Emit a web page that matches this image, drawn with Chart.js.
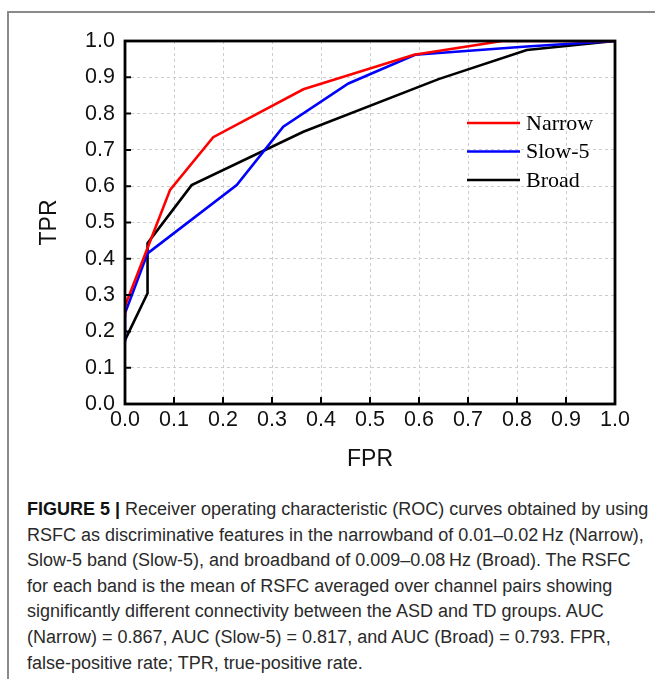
<!DOCTYPE html>
<html lang="en">
<head>
  <meta charset="UTF-8">
  <title>ROC curves</title>
  <script src="https://cdn.jsdelivr.net/npm/chart.js"></script>
  <style>
    html, body { margin: 0; padding: 0; background: #fff; }
    body { width: 655px; height: 679px; position: relative; overflow: hidden; }
    #frame { position: absolute; left: 7px; top: 11px; right: -2px; bottom: -2px; border-left: 2px solid #8a8a8a; border-top: 2px solid #8a8a8a; }
    #wrap { position: absolute; left: 0; top: 0; width: 655px; height: 480px; }
    #caption { position: absolute; left: 27px; top: 497px; width: 625px; font-family: "Liberation Sans", Arial, sans-serif; font-size: 18px; line-height: 25.6px; color: #2a2a2a; white-space: nowrap; }
    #caption b { font-weight: bold; color: #111; }
  </style>
</head>
<body>
<div id="frame"></div>
<div id="wrap"><canvas id="roc" width="655" height="480"></canvas></div>
<div id="caption">
  <b>FIGURE 5 |</b> Receiver operating characteristic (ROC) curves obtained by using<br>
  RSFC as discriminative features in the narrowband of 0.01–0.02&#8201;Hz (Narrow),<br>
  Slow-5 band (Slow-5), and broadband of 0.009–0.08&#8201;Hz (Broad). The RSFC<br>
  for each band is the mean of RSFC averaged over channel pairs showing<br>
  significantly different connectivity between the ASD and TD groups. AUC<br>
  (Narrow) = 0.867, AUC (Slow-5) = 0.817, and AUC (Broad) = 0.793. FPR,<br>
  false-positive rate; TPR, true-positive rate.
</div>

<script>
  // values (FPR, TPR)
  const narrowFpr = [0, 0, 0.046, 0.092, 0.18, 0.364, 0.59, 0.77, 1];
  const narrowTpr = [0.24, 0.27, 0.43, 0.59, 0.735, 0.867, 0.962, 1, 1];
  const slowFpr = [0, 0, 0.046, 0.228, 0.323, 0.456, 0.592, 0.82, 1];
  const slowTpr = [0.17, 0.25, 0.415, 0.603, 0.764, 0.883, 0.962, 0.985, 1];
  const broadFpr = [0, 0.046, 0.046, 0.136, 0.364, 0.64, 0.82, 1];
  const broadTpr = [0.176, 0.305, 0.443, 0.603, 0.75, 0.895, 0.975, 1];
  const axisTicks = [0, 0.1, 0.2, 0.3, 0.4, 0.5, 0.6, 0.7, 0.8, 0.9, 1];

  function pts(xs, ys) {
    return xs.map((x, i) => ({ x: x, y: ys[i] }));
  }

  // box around the plot, inward tick marks and legend inside the plot
  const frameAndLegend = {
    id: 'frameAndLegend',
    afterDatasetsDraw(chart) {
      const { ctx, chartArea: a, scales } = chart;
      ctx.save();
      ctx.strokeStyle = '#000';
      ctx.lineWidth = 2;
      ctx.beginPath();
      axisTicks.forEach(v => {
        const px = scales.x.getPixelForValue(v);
        ctx.moveTo(px, a.bottom);
        ctx.lineTo(px, a.bottom - 7);
        const py = scales.y.getPixelForValue(v);
        ctx.moveTo(a.left, py);
        ctx.lineTo(a.left + 6, py);
      });
      ctx.stroke();
      ctx.lineWidth = 2.8;
      ctx.strokeRect(a.left, a.top, a.right - a.left, a.bottom - a.top);

      // legend
      ctx.font = '22px "Liberation Serif", "Times New Roman", serif';
      ctx.textBaseline = 'middle';
      ctx.textAlign = 'left';
      chart.data.datasets.forEach((ds, i) => {
        const y = a.top + 82 + i * 28.5;
        const x0 = a.right - 148;
        ctx.strokeStyle = ds.borderColor;
        ctx.lineWidth = 2.6;
        ctx.beginPath();
        ctx.moveTo(x0, y);
        ctx.lineTo(x0 + 53, y);
        ctx.stroke();
        ctx.fillStyle = '#000';
        ctx.fillText(ds.label, x0 + 59, y + 1);
      });
      ctx.restore();
    }
  };

  const ticksFont = { family: '"Liberation Sans", Arial, sans-serif', size: 21.5 };
  const titleFont = { family: '"Liberation Sans", Arial, sans-serif', size: 23 };

  new Chart(document.getElementById('roc'), {
    type: 'line',
    data: {
      datasets: [
        { label: 'Narrow', data: pts(narrowFpr, narrowTpr), borderColor: '#ff0000' },
        { label: 'Slow-5', data: pts(slowFpr, slowTpr), borderColor: '#0000ff' },
        { label: 'Broad', data: pts(broadFpr, broadTpr), borderColor: '#000000' }
      ]
    },
    options: {
      responsive: false,
      animation: false,
      events: [],
      elements: {
        line: { borderWidth: 2.6, tension: 0, borderJoinStyle: 'miter' },
        point: { radius: 0 }
      },
      layout: { padding: { left: 36, top: 41, right: 40, bottom: 0 } },
      plugins: { legend: { display: false }, tooltip: { enabled: false } },
      scales: {
        x: {
          type: 'linear', min: 0, max: 1,
          afterBuildTicks: s => { s.ticks = axisTicks.map(v => ({ value: v })); },
          afterFit: s => { s.height = 76; },
          grid: { color: '#cccccc', lineWidth: 1, drawTicks: false },
          border: { display: false, dash: [3, 3] },
          ticks: { color: '#111', font: ticksFont, padding: 3, maxRotation: 0, callback: v => v.toFixed(1) },
          title: { display: true, text: 'FPR', color: '#111', font: titleFont, padding: { top: 0, bottom: 7 } }
        },
        y: {
          type: 'linear', min: 0, max: 1,
          afterBuildTicks: s => { s.ticks = axisTicks.map(v => ({ value: v })); },
          afterFit: s => { s.width = 89; },
          grid: { color: '#cccccc', lineWidth: 1, drawTicks: false },
          border: { display: false, dash: [3, 3] },
          ticks: { color: '#111', font: ticksFont, padding: 10, callback: v => v.toFixed(1) },
          title: { display: true, text: 'TPR', color: '#111', font: titleFont, padding: 0 }
        }
      }
    },
    plugins: [frameAndLegend]
  });
</script>
</body>
</html>
